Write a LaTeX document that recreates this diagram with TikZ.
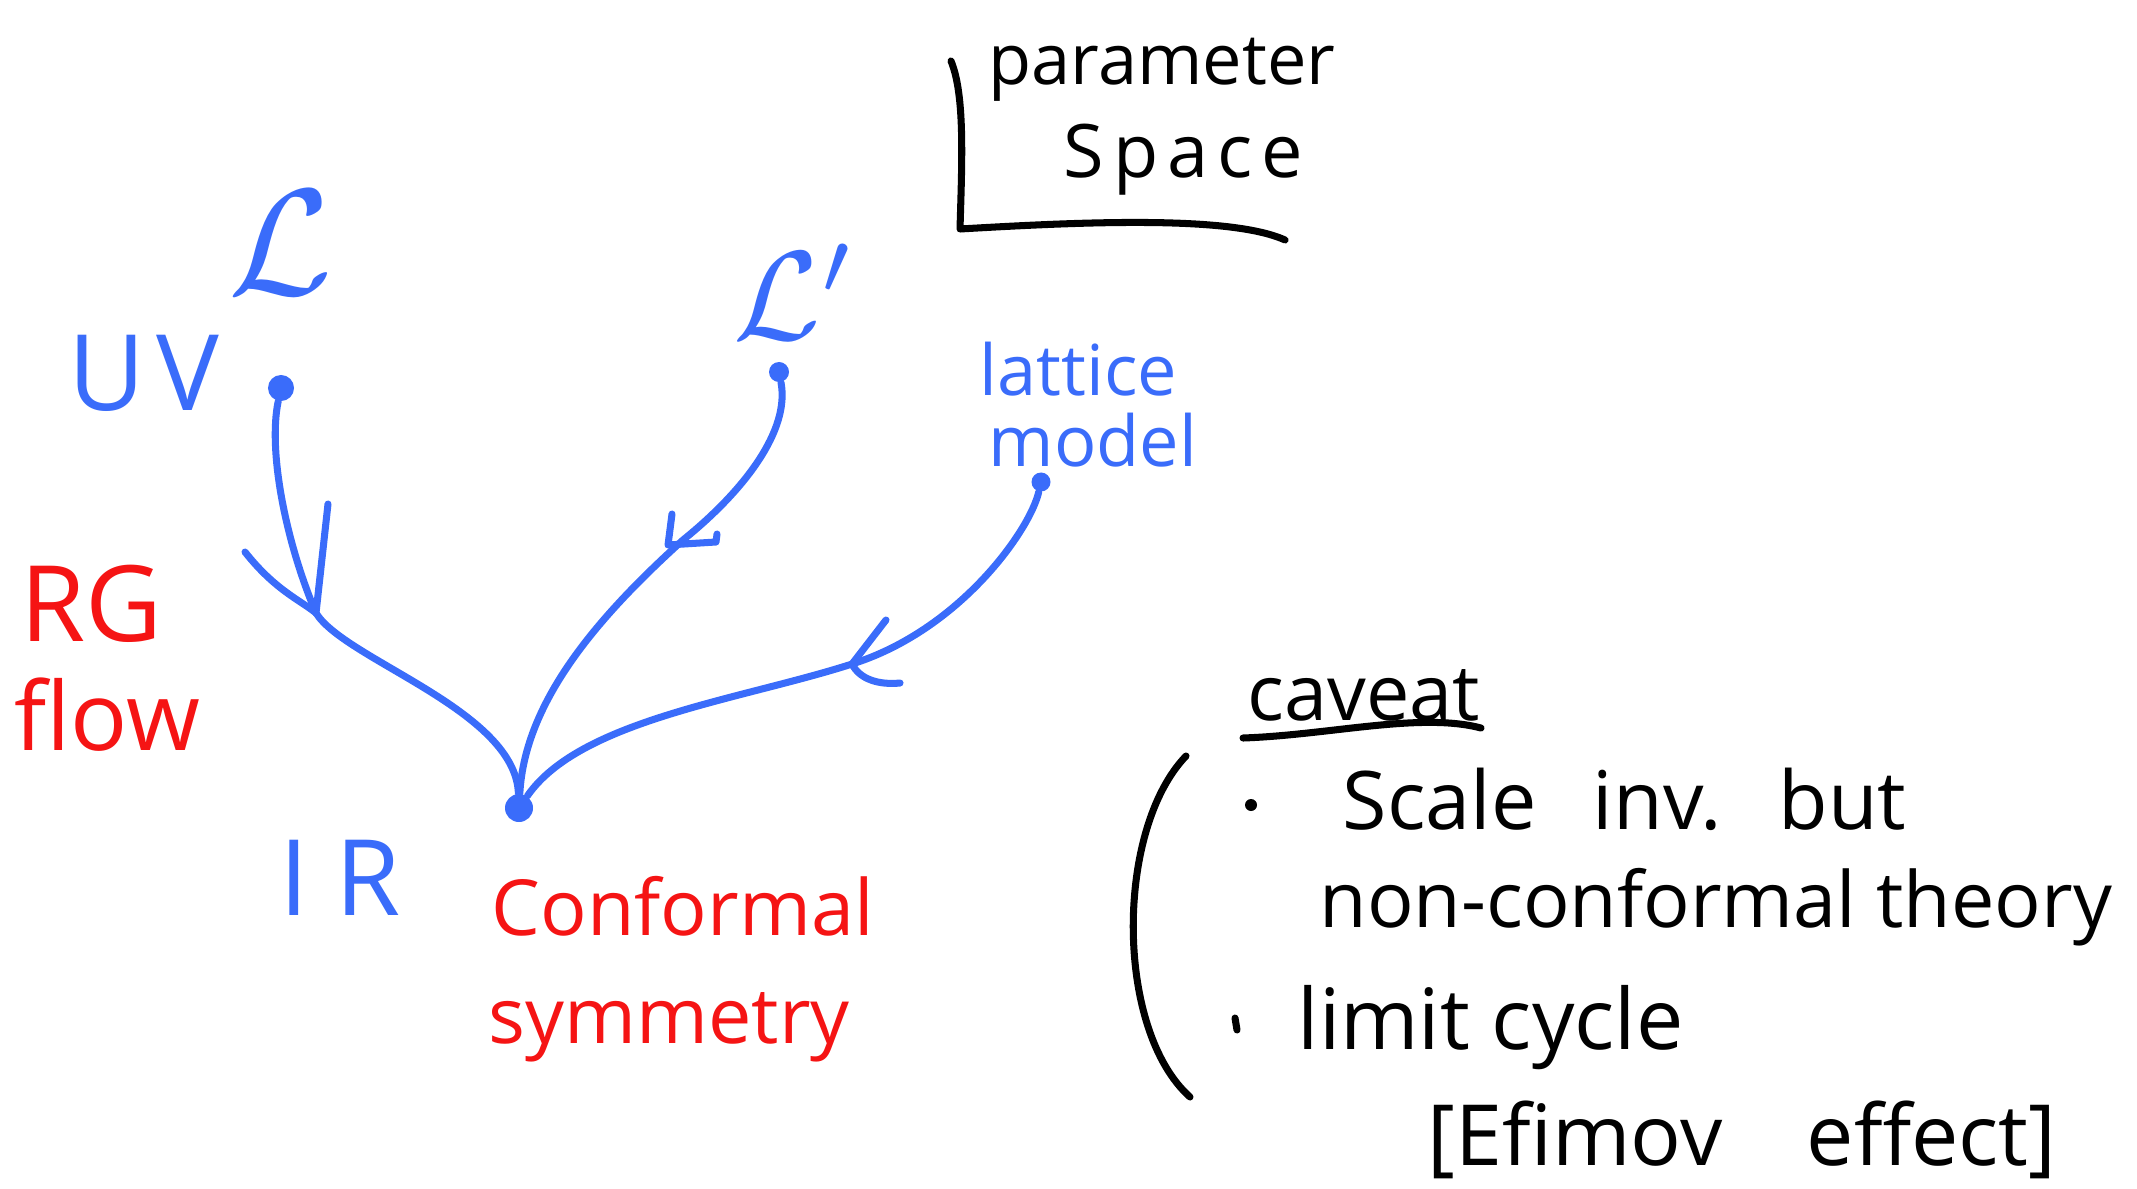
\documentclass[tikz,border=0pt]{standalone}
\usepackage{graphicx}
\usepackage{fontspec}
\setmainfont{Open Sans}
\definecolor{hblue}{RGB}{58,108,250}
\definecolor{hred}{RGB}{245,20,20}
\newcommand\hwsize[1]{\fontsize{#1}{#1}\selectfont}
\newcommand\wsp{\hspace{0.7em}}
\begin{document}
\begin{tikzpicture}[x=0.01cm,y=-0.01cm,line cap=round,line join=round,
  pen/.style={line width=2pt},
  bpen/.style={pen,draw=hblue},
  kpen/.style={pen,draw=black},
  bdot/.style={circle,fill=hblue,inner sep=0pt,minimum size=#1},
  lab/.style={inner sep=0pt,anchor=base west},
  blab/.style={lab,text=hblue},
  rlab/.style={lab,text=hred},
  klab/.style={lab,text=black}]
\useasboundingbox (0,0) rectangle (2137,1188);

% parameter space
\draw[kpen] (951,61) .. controls (965,95) and (962,160) .. (960,229)
  .. controls (1080,222) and (1230,215) .. (1285,240);
\node[klab,font=\hwsize{20}] (par) at (988,85) {parameter};
\node[klab,font=\hwsize{21}\addfontfeature{LetterSpace=12}] (spc) at (1063,177) {Space};

% blue labels
\node[text=hblue,inner sep=0pt] (L1) at (281,243) {\scalebox{4.3}{$\mathcal{L}$}};
\node[text=hblue,inner sep=0pt,anchor=west] (L2) at (733,292) {\scalebox{3.6}{$\mathcal{L}'$}};
\node[blab,font=\hwsize{30}\addfontfeature{LetterSpace=10}] (uvt) at (68,410) {UV};
\node[blab,font=\hwsize{20}] (lat) at (979,395) {lattice};
\node[blab,font=\hwsize{20}] (mod) at (988,466) {model};
\node[blab,font=\hwsize{30}\addfontfeature{LetterSpace=25}] (irt) at (279,915) {IR};

% red labels
\node[rlab,font=\hwsize{30}] (rg) at (20,641) {RG};
\node[rlab,font=\hwsize{27}] (flow) at (14,750) {flow};
\node[rlab,font=\hwsize{22}] (conf) at (491,935) {Conformal};
\node[rlab,font=\hwsize{22}] (sym) at (488,1043) {symmetry};

% dots
\node[bdot=0.26cm] (uv) at (281,388) {};
\node[bdot=0.2cm] (lp) at (779,372) {};
\node[bdot=0.19cm] (lm) at (1041,482) {};
\node[bdot=0.28cm] (ir) at (519,808) {};

% flow lines
\coordinate (a1) at (316,613);
\coordinate (a2) at (683,540);
\coordinate (a3) at (852,664);
\draw[bpen] (uv) .. controls (268,450) and (285,540) .. (a1)
  .. controls (345,660) and (515,710) .. (ir);
\draw[bpen] (lp) .. controls (790,430) and (745,490) .. (a2)
  .. controls (600,615) and (525,700) .. (ir);
\draw[bpen] (lm) .. controls (1030,530) and (960,630) .. (a3)
  .. controls (740,700) and (580,720) .. (ir);

% arrowheads
\draw[bpen] (245,552) .. controls (275,590) and (300,600) .. (a1);
\draw[bpen] (328,504) -- (a1);
\draw[bpen] (672,514) -- (668,545) -- (716,542) -- (717,534);
\draw[bpen] (886,620) -- (a3) .. controls (860,680) and (880,685) .. (900,683);

% caveat
\node[klab,font=\hwsize{22}] (cav) at (1247,720) {caveat};
\draw[kpen] (1243,738) .. controls (1330,735) and (1420,712) .. (1481,728);
\draw[kpen] (1186,756) .. controls (1115,830) and (1115,1030) .. (1190,1097);
\fill (1251,805) circle (6);
\node[klab,font=\hwsize{23}] (sc) at (1342,829) {Scale\wsp inv.\wsp but};
\node[klab,font=\hwsize{22}] (nc) at (1319,927) {non-conformal theory};
\draw[kpen] (1235,1018) -- (1237,1030);
\node[klab,font=\hwsize{24}] (lc) at (1297,1049) {limit cycle};
\node[klab,font=\hwsize{24}] (ef) at (1427,1165) {[Efimov\hspace{1em}effect]};
\end{tikzpicture}
\end{document}
